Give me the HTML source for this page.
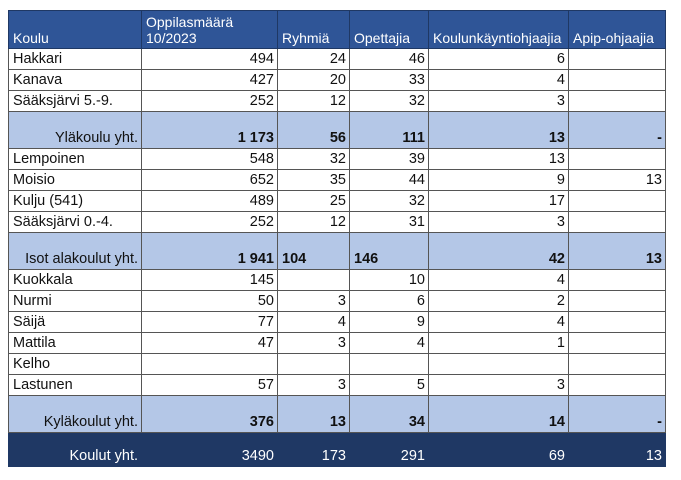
<!DOCTYPE html>
<html><head><style>
body{margin:0;background:#fff;width:681px;height:480px;position:relative;font-family:"Liberation Sans",sans-serif;font-size:14.5px;color:#111}
table{position:absolute;left:8px;top:10px;border-collapse:collapse;table-layout:fixed;width:657px;font-size:14.5px}
td{border:1px solid #555;padding:0 3px 2px 4px;text-align:right;vertical-align:bottom;white-space:nowrap;overflow:hidden;height:18px;line-height:16px}
td:first-child{text-align:left}
tr.h td{background:#2f5597;color:#fff;border-color:#1f3864;height:35px;text-align:left;font-size:14px;line-height:16px}
tr.s td{background:#b4c7e7;font-weight:bold;height:34px}
tr.s td:first-child,tr.t td:first-child{text-align:right;font-weight:normal}
tr.t td{background:#1f3864;color:#fff;height:31px;border-color:#1f3864}
</style></head><body>
<table>
<colgroup><col style="width:133px"><col style="width:136px"><col style="width:72px"><col style="width:79px"><col style="width:140px"><col style="width:97px"></colgroup>
<tr class="h"><td>Koulu</td><td>Oppilasmäärä<br>10/2023</td><td>Ryhmiä</td><td>Opettajia</td><td>Koulunkäyntiohjaajia</td><td>Apip-ohjaajia</td></tr>
<tr><td>Hakkari</td><td>494</td><td>24</td><td>46</td><td>6</td><td></td></tr>
<tr><td>Kanava</td><td>427</td><td>20</td><td>33</td><td>4</td><td></td></tr>
<tr><td>Sääksjärvi 5.-9.</td><td>252</td><td>12</td><td>32</td><td>3</td><td></td></tr>
<tr class="s"><td>Yläkoulu yht.</td><td>1 173</td><td>56</td><td>111</td><td>13</td><td>-</td></tr>
<tr><td>Lempoinen</td><td>548</td><td>32</td><td>39</td><td>13</td><td></td></tr>
<tr><td>Moisio</td><td>652</td><td>35</td><td>44</td><td>9</td><td>13</td></tr>
<tr><td>Kulju (541)</td><td>489</td><td>25</td><td>32</td><td>17</td><td></td></tr>
<tr><td>Sääksjärvi 0.-4.</td><td>252</td><td>12</td><td>31</td><td>3</td><td></td></tr>
<tr class="s"><td>Isot alakoulut yht.</td><td>1 941</td><td style="text-align:left">104</td><td style="text-align:left">146</td><td>42</td><td>13</td></tr>
<tr><td>Kuokkala</td><td>145</td><td></td><td>10</td><td>4</td><td></td></tr>
<tr><td>Nurmi</td><td>50</td><td>3</td><td>6</td><td>2</td><td></td></tr>
<tr><td>Säijä</td><td>77</td><td>4</td><td>9</td><td>4</td><td></td></tr>
<tr><td>Mattila</td><td>47</td><td>3</td><td>4</td><td>1</td><td></td></tr>
<tr><td>Kelho</td><td></td><td></td><td></td><td></td><td></td></tr>
<tr><td>Lastunen</td><td>57</td><td>3</td><td>5</td><td>3</td><td></td></tr>
<tr class="s"><td>Kyläkoulut yht.</td><td>376</td><td>13</td><td>34</td><td>14</td><td>-</td></tr>
<tr class="t"><td>Koulut yht.</td><td>3490</td><td>173</td><td>291</td><td>69</td><td>13</td></tr>
</table>
</body></html>
